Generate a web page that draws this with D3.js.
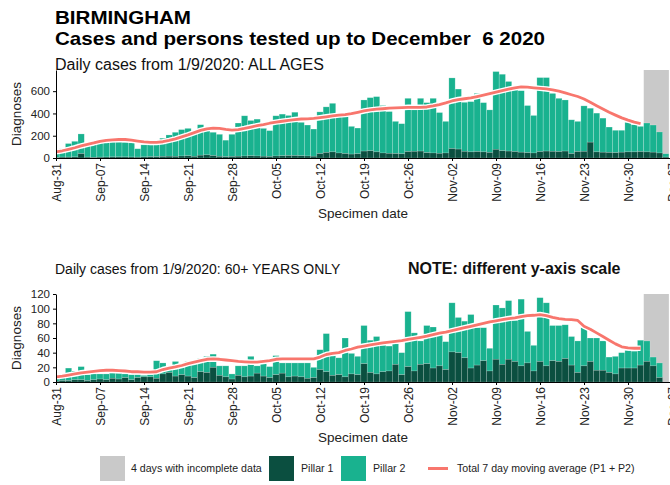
<!DOCTYPE html>
<html><head><meta charset="utf-8">
<script src="https://cdn.jsdelivr.net/npm/d3@7"></script>
<style>body{margin:0;background:#fff} svg{display:block;font-family:"Liberation Sans",Arial,Helvetica,sans-serif}</style>
</head><body><svg id="c" width="670" height="485"></svg>
<script>
// ---------- DATA ----------
const startDate = "2020-08-31";
const tickLabels = ["Aug-31","Sep-07","Sep-14","Sep-21","Sep-28","Oct-05","Oct-12","Oct-19","Oct-26","Nov-02","Nov-09","Nov-16","Nov-23","Nov-30","Dec-07"];
const incompleteStart = 94; // index of Dec 3
const incompleteDays = 4;

// ALL AGES: total (P1+P2) per day, and Pillar 1 per day
const allTotal = [
  40, 83,130,150,216,118,128,
 135,140,142,142,140,136, 83,
 118,118,122,178,207,231,255,
 266,243,299,255,231,213,160,
 213,314,379,337,349,266,246,
 379,394,382,411,320,296,260,
 414,459,491,373,373,284,269,
 521,542,551,471,417,329,308,
 536,432,536,497,536,408,329,
 719,619,500,506,580,497,432,
 776,752,687,610,604,471,382,
 722,722,580,536,521,343,329,
 468,447,403,358,278,249,249,
 320,299,284,314,296,234, 38];
const allPillar1 = [
   5,  8,  8, 10, 40,  8,  6,
   8,  9, 10, 10, 10,  9,  8,
  10, 12, 12, 14, 16, 15, 18,
  20, 15, 25, 28, 22, 15, 12,
  14, 16, 18, 20, 18, 16, 14,
  18, 20, 22, 22, 20, 18, 16,
  40, 50, 55, 45, 40, 35, 38,
  62, 65, 55, 45, 42, 40, 38,
  58, 60, 62, 48, 45, 42, 45,
  85, 80, 60, 55, 58, 55, 50,
  78, 65, 62, 58, 52, 48, 45,
  58, 62, 60, 58, 62, 40, 58,
  60,142, 55, 52, 50, 48, 52,
  55, 55, 58, 55, 52, 45,  8];
const allMA = [
  55, 65, 78, 92,108,122,135,
 150,158,163,166,166,160,152,
 145,140,140,146,158,172,190,
 208,228,248,262,268,266,257,
 250,255,265,278,290,300,312,
 322,330,338,345,350,352,355,
 362,370,378,385,390,398,410,
 422,432,438,442,447,450,452,
 455,455,455,458,468,480,495,
 512,525,532,540,552,565,578,
 592,605,618,630,638,636,630,
 625,620,612,600,585,568,552,
 530,500,470,440,410,385,360,
 340,322,308];

// 60+ YEARS
const oldTotal = [
   5,  7, 19, 15, 21, 10, 11,
  11, 11, 12, 12, 11, 10, 10,
   9, 10, 29, 26, 20, 28, 20,
  28, 26, 32, 35, 38, 22, 22,
  11, 22, 22, 35, 22, 31, 21,
  36, 26, 26, 26, 26, 26, 20,
  44, 66, 41, 33, 60, 39, 35,
  77, 57, 62, 50, 49, 52, 40,
  96, 67, 56, 77, 75, 65, 55,
 108, 88, 83, 92, 74, 74, 46,
 105,101,111, 84,113, 69, 50,
 115,108, 77, 77, 78, 62, 56,
  74, 60, 60, 56, 34, 35, 40,
  43, 42, 57, 56, 34, 26,  0];
const oldPillar1 = [
   1,  2,  2,  3,  3,  2,  3,
   4,  3,  5,  4,  6,  3,  6,
   7,  7,  5, 11, 13,  8, 10,
   8,  6, 14, 13, 20,  9,  7,
   4,  9,  7,  8, 12,  8,  6,
  10, 12,  7,  8,  7,  5,  6,
  17, 14,  9, 10,  7, 11, 10,
  25, 13, 11, 14, 15, 24, 10,
  21, 15, 24, 25, 19, 22, 17,
  41, 40, 33, 19, 23, 29, 15,
  31, 24, 31, 28, 22, 26, 15,
  28, 22, 29, 28, 32, 23, 13,
  22, 28, 16, 16, 13, 11, 19,
  19, 19, 23, 28, 22,  6,  0];
const oldMA = [
   7,  8,  9.5, 11, 12.5, 13.5, 14.5,
  15.5, 16, 16, 15.5, 15, 14, 14,
  13.5, 13.5, 14, 17, 19, 20.5, 22.5,
  25, 27, 29, 31, 31.5, 31, 30,
  29, 28, 27.5, 27, 27, 28, 29,
  31, 31.5, 31.5, 31.5, 31.5, 31.5, 31.5,
  34, 37.5, 39, 40, 43, 45, 47.5,
  49, 50.5, 52, 53.5, 54.5, 55.5, 56.5,
  58, 59.5, 61, 62.5, 64.5, 66.5, 68,
  70, 72, 74, 76, 78, 80, 82,
  83.5, 85, 86.5, 87.5, 89, 90.5, 91,
  92, 90.5, 88, 86.5, 85.5, 85, 84,
  76, 72, 67, 62, 57, 52, 48,
  46.5, 46, 46];

const allTicks = [0,200,400,600];
const oldTicks = [0,20,40,60,80,100,120];

// ---------- STYLE ----------
const C = {p1:"#0b4f40", p2:"#19b28f", ma:"#f8766d", grey:"#c9c9c9"};

const svg = d3.select("#c");
const t0 = d3.utcParse("%Y-%m-%d")(startDate);
const day = i => d3.utcDay.offset(t0, i);
const nDays = allTotal.length;
const pxDay = 6.286;
const x = d3.scaleUtc().domain([t0, day(nDays)]).range([56, 56 + nDays*pxDay]);
const bw = x(day(1)) - x(t0);
const tickDates = tickLabels.map((_, i) => day(i*7));

// Titles
svg.append("text").attr("x",55).attr("y",23.5).attr("font-size",19).attr("font-weight","bold").attr("fill","#000")
  .attr("textLength",136).attr("lengthAdjust","spacingAndGlyphs").text("BIRMINGHAM");
svg.append("text").attr("x",55).attr("y",45).attr("font-size",19).attr("font-weight","bold").attr("fill","#000")
  .attr("xml:space","preserve").attr("textLength",490).attr("lengthAdjust","spacingAndGlyphs")
  .text("Cases and persons tested up to December  6 2020");

function panel(opt){
  const y = d3.scaleLinear().domain(opt.domain).range([opt.base, opt.top]);
  const g = svg.append("g");
  const cid = "clip"+opt.id;
  svg.append("clipPath").attr("id",cid).append("rect")
    .attr("x",56).attr("y",opt.top-2).attr("width",670-56).attr("height",opt.base-opt.top+2);
  const pg = g.append("g").attr("clip-path",`url(#${cid})`);
  // incomplete band
  pg.append("rect").attr("x", x(day(incompleteStart)) - bw/2).attr("y", opt.top)
    .attr("width", incompleteDays*bw).attr("height", opt.base-opt.top).attr("fill", C.grey);
  const idx = d3.range(nDays);
  // pillar 2 (upper)
  pg.selectAll(".p2").data(idx).join("rect")
    .attr("x", i => x(day(i)) - bw/2).attr("width", bw)
    .attr("y", i => y(opt.total[i])).attr("height", i => Math.max(0, y(opt.p1[i]) - y(opt.total[i])))
    .attr("fill", C.p2).attr("stroke","#ffffff").attr("stroke-opacity",0.35).attr("stroke-width",0.6);
  // pillar 1
  pg.selectAll(".p1").data(idx).join("rect")
    .attr("x", i => x(day(i)) - bw/2).attr("width", bw)
    .attr("y", i => y(opt.p1[i])).attr("height", i => y(0) - y(opt.p1[i]))
    .attr("fill", C.p1).attr("stroke","#ffffff").attr("stroke-opacity",0.25).attr("stroke-width",0.6);
  // moving average
  const line = d3.line().x((d,i) => x(day(i))).y(d => y(d)).curve(d3.curveLinear);
  pg.append("path").datum(opt.ma).attr("d", line).attr("fill","none").attr("stroke","#fff").attr("stroke-width",5.5).attr("stroke-linejoin","round");
  pg.append("path").datum(opt.ma).attr("d", line).attr("fill","none").attr("stroke",C.ma).attr("stroke-width",2.8).attr("stroke-linejoin","round");
  // axes
  const xa = g.append("g").attr("transform",`translate(0,${opt.base})`)
    .call(d3.axisBottom(x).tickValues(tickDates).tickFormat((d,i)=>tickLabels[i]).tickSize(3).tickSizeOuter(0));
  xa.select(".domain").attr("stroke","#000");
  xa.selectAll(".tick line").attr("stroke","#000");
  xa.selectAll("text").attr("font-size",12).attr("fill","#222").attr("font-family","Liberation Sans, Arial, sans-serif")
    .attr("transform","rotate(-90)").attr("text-anchor","end").attr("x",-5).attr("y",0).attr("dy","0.35em");
  const ya = g.append("g").attr("transform",`translate(56,0)`)
    .call(d3.axisLeft(y).tickValues(opt.ticks).tickSize(3).tickSizeOuter(0));
  ya.select(".domain").attr("stroke","#000");
  ya.selectAll(".tick line").attr("stroke","#000");
  ya.selectAll("text").attr("font-size",11.5).attr("fill","#222").attr("font-family","Liberation Sans, Arial, sans-serif");
  // labels
  svg.append("text").attr("transform",`translate(21,${(opt.base+opt.top)/2}) rotate(-90)`)
    .attr("text-anchor","middle").attr("font-size",13.5).attr("fill","#222").text("Diagnoses");
  svg.append("text").attr("x",363).attr("y",opt.base+60).attr("text-anchor","middle")
    .attr("font-size",13.5).attr("fill","#222").text("Specimen date");
}

svg.append("text").attr("x",55).attr("y",70).attr("font-size",16).attr("fill","#111").text("Daily cases from 1/9/2020: ALL AGES");
svg.append("text").attr("x",55).attr("y",274).attr("font-size",14).attr("fill","#111").text("Daily cases from 1/9/2020: 60+ YEARS ONLY");
svg.append("text").attr("x",408).attr("y",274).attr("font-size",16).attr("font-weight","bold").attr("fill","#111").text("NOTE: different y-axis scale");

panel({id:"a", domain:[0,790], base:158, top:70, total:allTotal, p1:allPillar1, ma:allMA, ticks:allTicks});
panel({id:"b", domain:[0,120], base:382, top:294, total:oldTotal, p1:oldPillar1, ma:oldMA, ticks:oldTicks});

// Legend
const lg = svg.append("g").attr("font-size",10.6).attr("fill","#222");
const ly = 456, ls = 25;
lg.append("rect").attr("x",100).attr("y",ly).attr("width",ls).attr("height",ls).attr("fill",C.grey);
lg.append("text").attr("x",131).attr("y",ly+ls/2).attr("dy","0.35em").text("4 days with incomplete data");
lg.append("rect").attr("x",269).attr("y",ly).attr("width",ls).attr("height",ls).attr("fill",C.p1);
lg.append("text").attr("x",301).attr("y",ly+ls/2).attr("dy","0.35em").text("Pillar 1");
lg.append("rect").attr("x",341).attr("y",ly).attr("width",ls).attr("height",ls).attr("fill",C.p2);
lg.append("text").attr("x",373).attr("y",ly+ls/2).attr("dy","0.35em").text("Pillar 2");
lg.append("line").attr("x1",428).attr("x2",448).attr("y1",ly+ls/2).attr("y2",ly+ls/2).attr("stroke",C.ma).attr("stroke-width",3);
lg.append("text").attr("x",457).attr("y",ly+ls/2).attr("dy","0.35em").text("Total 7 day moving average (P1 + P2)");
</script></body></html>
